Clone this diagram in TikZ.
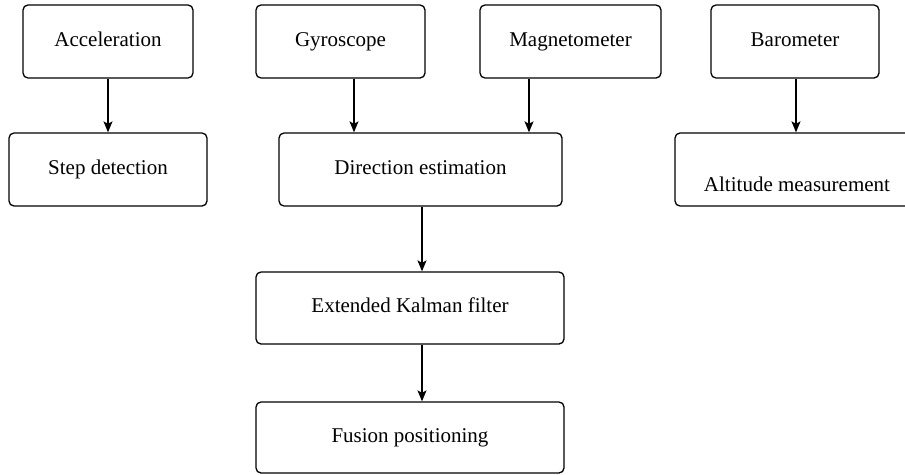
\documentclass[tikz,border=0pt]{standalone}
\usepackage{fontspec}
\setmainfont{Liberation Serif}
\usetikzlibrary{arrows.meta}
\begin{document}
\begin{tikzpicture}[x=1pt,y=-1pt,
  lbl/.style={font=\fontsize{21}{24}\selectfont, text height=14.5pt, text depth=5pt, inner sep=0pt},
  box/.style={lbl, draw, line width=1.3pt, rounded corners=5pt},
  arr/.style={line width=1.3pt, -{Stealth[length=11pt,width=9pt,inset=2.5pt]}}]
\useasboundingbox (0,0) rectangle (905,474);
\clip (0,0) rectangle (905,474);
\node[box, minimum width=170pt, minimum height=73pt] (acc) at (108,41.5) {Acceleration};
\node[box, minimum width=198pt, minimum height=73pt] (step) at (108,169.5) {Step detection};
\node[box, minimum width=169pt, minimum height=73pt] (gyro) at (340.5,41.5) {Gyroscope};
\node[box, minimum width=181pt, minimum height=73pt] (mag) at (570.5,41.5) {Magnetometer};
\node[box, minimum width=283pt, minimum height=73pt] (dir) at (420.5,169.5) {Direction estimation};
\node[box, minimum width=168pt, minimum height=73pt] (baro) at (795,41.5) {Barometer};
\node[box, minimum width=242pt, minimum height=73pt] (alt) at (796,169.5) {};
\node[lbl] (altt) at (797,186.5) {Altitude measurement};
\node[box, minimum width=308pt, minimum height=72pt] (ekf) at (410,308) {Extended Kalman filter};
\node[box, minimum width=308pt, minimum height=71pt] (fus) at (410,437.5) {Fusion positioning};
\coordinate (xa) at (108,0);
\coordinate (xg) at (354,0);
\coordinate (xm) at (529,0);
\coordinate (xd) at (422,0);
\coordinate (xb) at (796,0);
\draw[arr] (acc.south -| xa) -- (step.north -| xa);
\draw[arr] (gyro.south -| xg) -- (dir.north -| xg);
\draw[arr] (mag.south -| xm) -- (dir.north -| xm);
\draw[arr] (baro.south -| xb) -- (alt.north -| xb);
\draw[arr] (dir.south -| xd) -- (ekf.north -| xd);
\draw[arr] (ekf.south -| xd) -- (fus.north -| xd);
\end{tikzpicture}
\end{document}
